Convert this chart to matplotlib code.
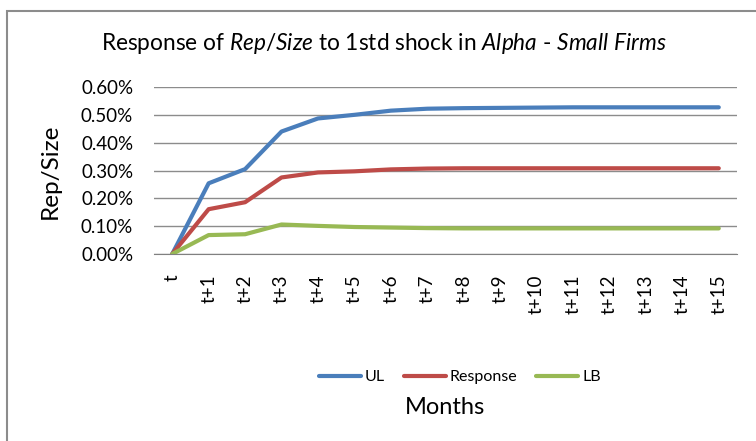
import matplotlib
matplotlib.use("Agg")
import matplotlib.pyplot as plt
from matplotlib.patches import Rectangle
from matplotlib.ticker import FuncFormatter

categories = ["t"] + [f"t+{i}" for i in range(1, 16)]
ul = [0.0, 0.254, 0.305, 0.440, 0.487, 0.500, 0.515, 0.522, 0.524, 0.525, 0.526, 0.527, 0.527, 0.527, 0.527, 0.527]
response = [0.0, 0.161, 0.186, 0.275, 0.293, 0.297, 0.304, 0.307, 0.308, 0.308, 0.308, 0.308, 0.308, 0.308, 0.308, 0.308]
lb = [0.0, 0.068, 0.071, 0.106, 0.101, 0.097, 0.095, 0.093, 0.092, 0.092, 0.092, 0.092, 0.092, 0.092, 0.092, 0.092]
yticks = [0.0, 0.1, 0.2, 0.3, 0.4, 0.5, 0.6]

plt.rcParams['font.family'] = ['Lato', 'DejaVu Sans']
plt.rcParams['mathtext.fontset'] = 'custom'
plt.rcParams['mathtext.rm'] = 'Lato'
plt.rcParams['mathtext.it'] = 'Lato:italic'

W, H = 756, 441
fig = plt.figure(figsize=(W / 100, H / 100), dpi=100)
fig.patches.append(Rectangle((7 / W, -0.1), 1.2, 1.1 - 11 / H, transform=fig.transFigure,
                             fill=False, edgecolor="#8c8c8c", linewidth=1.5))

ax = fig.add_axes([154 / W, 1 - 254 / H, (737 - 154) / W, (254 - 87) / H])
x = list(range(len(categories)))
ax.plot(x, ul, color="#4a7ebb", lw=3, label="UL", solid_capstyle="round")
ax.plot(x, response, color="#be4b48", lw=3, label="Response", solid_capstyle="round")
ax.plot(x, lb, color="#98b954", lw=3, label="LB", solid_capstyle="round")

ax.set_xlim(-0.5, len(categories) - 0.5)
ax.set_ylim(0, 0.6)
ax.set_yticks(yticks)
ax.yaxis.set_major_formatter(FuncFormatter(lambda v, p: f"{v:.2f}%"))
ax.set_xticks(x)
ax.set_xticklabels(categories, rotation=90, fontsize=13.5)
ax.tick_params(axis='y', labelsize=13.5, length=0, pad=15)
ax.tick_params(axis='x', length=0, pad=15)
ax.grid(axis='y', color="#8c8c8c", lw=1.0)
ax.set_axisbelow(True)
for s in ["left", "right", "top"]:
    ax.spines[s].set_visible(False)
ax.spines["bottom"].set_color("#808080")

fig.text(50 / W, 1 - 171 / H, "Rep/Size", rotation=90, ha="center", va="center", fontsize=17.5)
fig.text(384 / W, 1 - 44 / H, r"Response of $\it{Rep/Size}$ to 1std shock in $\it{Alpha}$ - $\it{Small\ Firms}$",
         ha="center", va="center", fontsize=16.3)
fig.text(445 / W, 1 - 407 / H, "Months", ha="center", va="center", fontsize=17)

ax.legend(loc="center", bbox_to_anchor=(460 / W, 1 - 377 / H), bbox_transform=fig.transFigure,
          ncol=3, frameon=False, fontsize=11.5, handlelength=2.6, columnspacing=1.2,
          handletextpad=0.25, borderpad=0)

fig.savefig("out.png", dpi=100)
